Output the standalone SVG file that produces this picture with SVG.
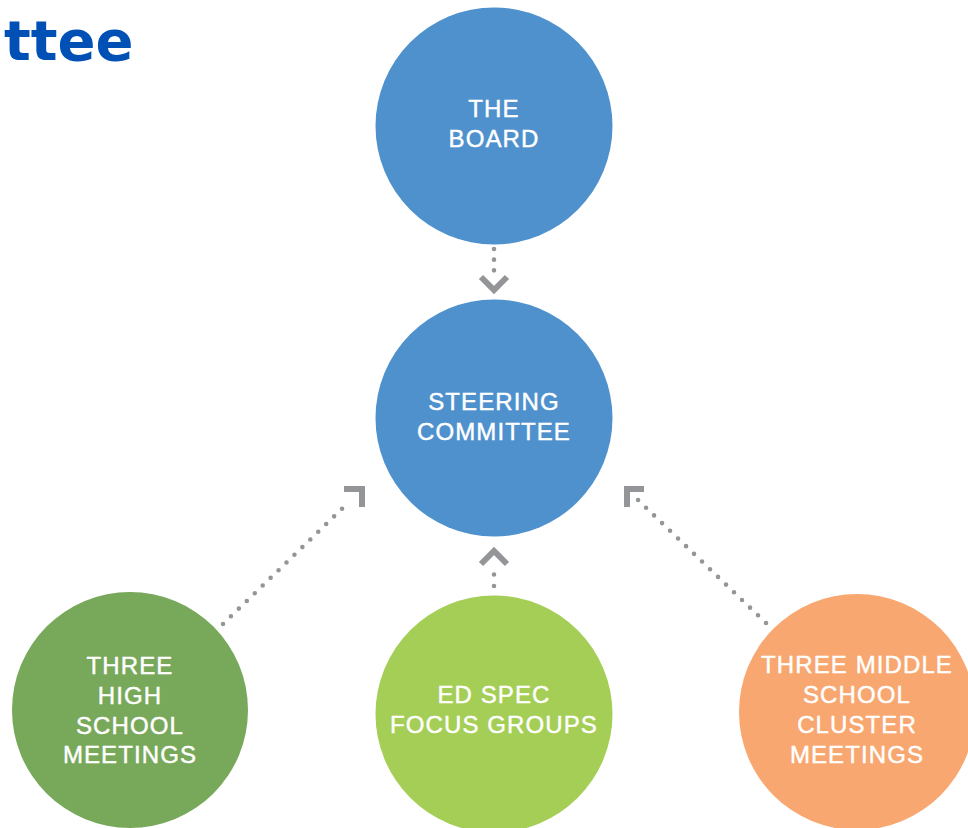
<svg xmlns="http://www.w3.org/2000/svg" width="968" height="828" viewBox="0 0 968 828">
<style>
.lbl{font-family:"Liberation Sans",Arial,sans-serif;font-size:24px;letter-spacing:1.1px;fill:#ffffff;stroke:#ffffff;stroke-width:0.45;text-anchor:middle}
.dots{fill:none;stroke:#939598;stroke-width:4.6;stroke-linecap:round}
.head{fill:none;stroke:#939598;stroke-width:6;stroke-linecap:butt;stroke-linejoin:miter}
.title{font-family:"DejaVu Sans",Verdana,sans-serif;font-weight:bold;font-size:56px;fill:#0050B5}
</style>
<rect width="968" height="828" fill="#ffffff"/>
<text class="title" x="4" y="60">ttee</text>
<g id="connectors">
<line class="dots" x1="494" y1="249" x2="494" y2="281" stroke-dasharray="0 10.67"/>
<polyline class="head" stroke-width="5" points="481,277 494,290 507,277"/>
<line class="dots" x1="494" y1="586" x2="494" y2="563" stroke-dasharray="0 11.5"/>
<polyline class="head" stroke-width="5" points="481,564 494,551 507,564"/>
<line class="dots" x1="223" y1="624" x2="350" y2="501" stroke-dasharray="0 11.05"/>
<polyline class="head" points="344,489 362,489 362,507"/>
<line class="dots" x1="766" y1="623" x2="638" y2="500" stroke-dasharray="0 11.09"/>
<polyline class="head" points="644,489 627,489 627,507"/>
</g>
<g id="board">
<circle cx="494" cy="126" r="118.5" fill="#4F91CD"/>
<text class="lbl" x="494" y="117">THE</text>
<text class="lbl" x="494" y="147">BOARD</text>
</g>
<g id="steering">
<circle cx="494" cy="418" r="118.5" fill="#4F91CD"/>
<text class="lbl" x="494" y="410">STEERING</text>
<text class="lbl" x="494" y="440">COMMITTEE</text>
</g>
<g id="high-school">
<circle cx="130" cy="710" r="118" fill="#78A85A"/>
<text class="lbl" x="130" y="674">THREE</text>
<text class="lbl" x="130" y="704">HIGH</text>
<text class="lbl" x="130" y="734">SCHOOL</text>
<text class="lbl" x="130" y="763">MEETINGS</text>
</g>
<g id="focus-groups">
<circle cx="494" cy="714" r="118.5" fill="#A4CE55"/>
<text class="lbl" x="494" y="703">ED SPEC</text>
<text class="lbl" x="494" y="733">FOCUS GROUPS</text>
</g>
<g id="middle-school">
<circle cx="857" cy="712" r="118" fill="#F7A76F"/>
<text class="lbl" x="857" y="673">THREE MIDDLE</text>
<text class="lbl" x="857" y="703">SCHOOL</text>
<text class="lbl" x="857" y="733">CLUSTER</text>
<text class="lbl" x="857" y="763">MEETINGS</text>
</g>
</svg>
